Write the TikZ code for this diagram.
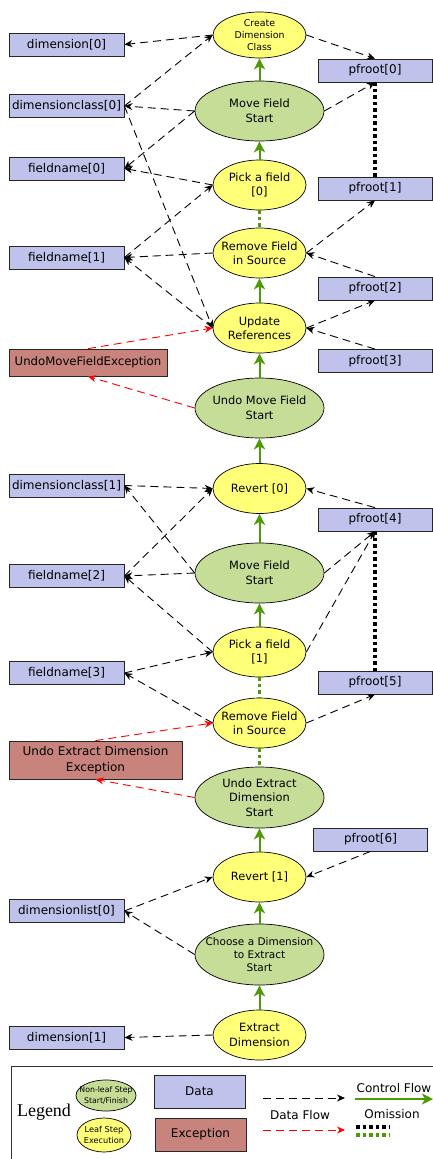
\documentclass[tikz,border=0pt]{standalone}
\usepackage{fontspec}
\setmainfont{DejaVu Sans}
\setsansfont{DejaVu Sans}
\newfontfamily\legendfont{Liberation Serif}
\usetikzlibrary{shapes.geometric,arrows.meta}

\definecolor{leafyellow}{RGB}{255,255,120}
\definecolor{startgreen}{RGB}{197,221,150}
\definecolor{datablue}{RGB}{191,195,235}
\definecolor{excred}{RGB}{199,131,124}
\definecolor{flowgreen}{RGB}{78,154,6}
\newcommand{\fsz}[2]{\fontsize{#1}{#2}\selectfont}

\begin{document}
\begin{tikzpicture}[x=1pt, y=-1pt, font=\fsz{12}{14},
  leaf/.style={ellipse, draw, line width=0.7pt, fill=leafyellow, minimum width=93pt, minimum height=50pt,
    inner xsep=-8pt, inner ysep=0pt, align=center, font=\fsz{11.4}{14.5}},
  nonleaf/.style={ellipse, draw, line width=0.7pt, fill=startgreen, minimum width=129pt, minimum height=60pt,
    inner xsep=-10pt, inner ysep=0pt, align=center, font=\fsz{11.4}{14.7}},
  databox/.style={draw=black!85, line width=0.8pt, fill=datablue, minimum width=115pt, minimum height=23pt, inner sep=0pt},
  excbox/.style={draw=black!85, line width=0.8pt, fill=excred, inner sep=0pt, align=center},
  dflow/.style={line width=0.9pt, dash pattern=on 8pt off 5pt, -{Stealth[length=8pt,width=7pt]}},
  eflow/.style={dflow, red},
  cflow/.style={draw=flowgreen, line width=2pt, -{Stealth[length=11pt,width=11pt,inset=3pt]}},
  omission/.style={line width=3.5pt, dash pattern=on 3.5pt off 3pt}]
  \useasboundingbox (0,0) rectangle (433,1159);
  \clip (0,0) rectangle (433,1159);

  % Steps
  \node[leaf, font=\fsz{9.4}{11.8}, minimum height=46pt] (create) at (259.5,35) {Create\\Dimension\\Class};
  \node[nonleaf] (mfs0) at (259.5,111) {Move Field\\Start};
  \node[leaf] (pick0) at (259.5,185) {Pick a field\\{[0]}};
  \node[leaf] (rem0) at (259.5,253) {Remove Field\\in Source};
  \node[leaf] (upd) at (259.5,328) {Update\\References};
  \node[nonleaf] (umfs) at (259.5,408) {Undo Move Field\\Start};
  \node[leaf] (rev0) at (259.5,488.5) {Revert [0]};
  \node[nonleaf] (mfs1) at (259.5,573) {Move Field\\Start};
  \node[leaf] (pick1) at (259.5,652) {Pick a field\\{[1]}};
  \node[leaf] (rem1) at (259.5,723) {Remove Field\\in Source};
  \node[nonleaf, minimum height=61pt] (uxs) at (259.5,797.5) {Undo Extract\\Dimension\\Start};
  \node[leaf] (rev1) at (259.5,877) {Revert [1]};
  \node[nonleaf, minimum height=61pt, font=\fsz{10.5}{13.3}] (choose) at (259.5,954.5) {Choose a Dimension\\to Extract\\Start};
  \node[leaf] (extract) at (259.5,1035) {Extract\\Dimension};

  % Data, left column
  \node[databox] (dim0) at (66.5,44.5) {dimension[0]};
  \node[databox] (dc0) at (66.5,106) {dimensionclass[0]};
  \node[databox] (fn0) at (66.5,168.5) {fieldname[0]};
  \node[databox] (fn1) at (66.5,257.5) {fieldname[1]};
  \node[databox] (dc1) at (66.5,485.5) {dimensionclass[1]};
  \node[databox] (fn2) at (66.5,576) {fieldname[2]};
  \node[databox] (fn3) at (66.5,673) {fieldname[3]};
  \node[databox] (dl0) at (66.5,911) {dimensionlist[0]};
  \node[databox] (dim1) at (66.5,1037.5) {dimension[1]};

  % Data, right column
  \node[databox, minimum width=114pt] (pf0) at (375,70.5) {pfroot[0]};
  \node[databox, minimum width=114pt] (pf1) at (375,188.5) {pfroot[1]};
  \node[databox, minimum width=114pt] (pf2) at (375,288.5) {pfroot[2]};
  \node[databox, minimum width=114pt] (pf3) at (375,361) {pfroot[3]};
  \node[databox, minimum width=114pt] (pf4) at (375,519.5) {pfroot[4]};
  \node[databox, minimum width=114pt] (pf5) at (375,682.5) {pfroot[5]};
  \node[databox, minimum width=114pt] (pf6) at (370.5,839.5) {pfroot[6]};

  % Exceptions
  \node[excbox, minimum width=158pt, minimum height=27pt, font=\fsz{11.7}{14}] (umfe) at (88,362.5) {UndoMoveFieldException};
  \node[excbox, minimum width=173pt, minimum height=38pt, font=\fsz{12}{16}] (uxe) at (95.5,760) {Undo Extract Dimension\\Exception};

  % Control flow
  \draw[cflow] (mfs0) -- (create);
  \draw[cflow] (pick0) -- (mfs0);
  \draw[cflow] (upd) -- (rem0);
  \draw[cflow] (umfs) -- (upd);
  \draw[cflow] (rev0) -- (umfs);
  \draw[cflow] (mfs1) -- (rev0);
  \draw[cflow] (pick1) -- (mfs1);
  \draw[cflow] (rev1) -- (uxs);
  \draw[cflow] (choose) -- (rev1);
  \draw[cflow] (extract) -- (choose);

  % Omissions
  \draw[omission, flowgreen] (pick0) -- (rem0);
  \draw[omission, flowgreen] (pick1) -- (rem1);
  \draw[omission, flowgreen] (rem1) -- (uxs);
  \draw[omission] (pf0) -- (pf1);
  \draw[omission] (pf4) -- (pf5);

  % Data flow, first move
  \draw[dflow] (create.west) -- (dim0.east);
  \draw[dflow] (dc0.east) -- (create.west);
  \draw[dflow] (create.east) -- (pf0.north);
  \draw[dflow] (mfs0.west) -- (dc0.east);
  \draw[dflow] (mfs0.west) -- (fn0.east);
  \draw[dflow] (mfs0.east) -- (pf0.south);
  \draw[dflow] (pick0.west) -- (fn0.east);
  \draw[dflow] (fn1.east) -- (pick0.west);
  \draw[dflow] (rem0.west) -- (fn1.east);
  \draw[dflow] (rem0.east) -- (pf1.south);
  \draw[dflow] (pf2.north) -- (rem0.east);
  \draw[dflow] (upd.west) -- (fn1.east);
  \draw[dflow] (dc0.east) -- (upd.west);
  \draw[dflow] (upd.east) -- (pf2.south);
  \draw[dflow] (pf3.north) -- (upd.east);

  % Data flow, second move
  \draw[dflow] (dc1.east) -- (rev0.west);
  \draw[dflow] (fn2.east) -- (rev0.west);
  \draw[dflow] (pf4.north) -- (rev0.east);
  \draw[dflow] (mfs1.west) -- (dc1.east);
  \draw[dflow] (mfs1.west) -- (fn2.east);
  \draw[dflow] (mfs1.east) -- (pf4.south);
  \draw[dflow] (pick1.west) -- (fn2.east);
  \draw[dflow] (fn3.east) -- (pick1.west);
  \draw[dflow] (pick1.east) -- (pf4.south);
  \draw[dflow] (rem1.west) -- (fn3.east);
  \draw[dflow] (rem1.east) -- (pf5.south);

  % Data flow, extract dimension
  \draw[dflow] (pf6.south) -- (rev1.east);
  \draw[dflow] (dl0.east) -- (rev1.west);
  \draw[dflow] (choose.west) -- (dl0.east);
  \draw[dflow] (extract.west) -- (dim1.east);

  % Exception flow
  \draw[eflow] (umfe.north) -- (upd.west);
  \draw[eflow] (umfs.west) -- (umfe.south);
  \draw[eflow] (uxe.north) -- (rem1.west);
  \draw[eflow] (uxs.west) -- (uxe.south);

  % Legend
  \draw[line width=0.9pt, black!80] (440,1066) -| (11,1170);
  \node[font=\legendfont\fsz{18}{20}] (legend) at (44,1112) {Legend};
  \node[nonleaf, minimum width=60pt, minimum height=31pt, font=\fsz{7.8}{10.7}] (keynl) at (106,1095.5) {Non-leaf Step\\Start/Finish};
  \node[leaf, minimum width=54pt, minimum height=34pt, inner xsep=-5pt, font=\fsz{8.2}{10.5}] (keyl) at (104,1135) {Leaf Step\\Execution};
  \node[databox, minimum width=91pt, minimum height=33pt] (keydata) at (199.5,1091.5) {Data};
  \node[excbox, minimum width=91pt, minimum height=33pt] (keyexc) at (200.5,1134.5) {Exception};
  \coordinate (df1) at (263,1098);
  \coordinate (df2) at (345,1098);
  \coordinate (ef1) at (263,1130);
  \coordinate (ef2) at (345,1130);
  \coordinate (cf1) at (355,1099);
  \coordinate (cf2) at (433,1099);
  \coordinate (om1) at (356,1127);
  \coordinate (om2) at (390,1127);
  \coordinate (og1) at (356,1135);
  \coordinate (og2) at (390,1135);
  \draw[dflow] (df1) -- (df2);
  \draw[eflow] (ef1) -- (ef2);
  \draw[cflow] (cf1) -- (cf2);
  \draw[omission] (om1) -- (om2);
  \draw[omission, flowgreen] (og1) -- (og2);
  \node (dflabel) at (300,1115) {Data Flow};
  \node (cflabel) at (394,1088) {Control Flow};
  \node (omlabel) at (392,1114) {Omission};
\end{tikzpicture}
\end{document}
